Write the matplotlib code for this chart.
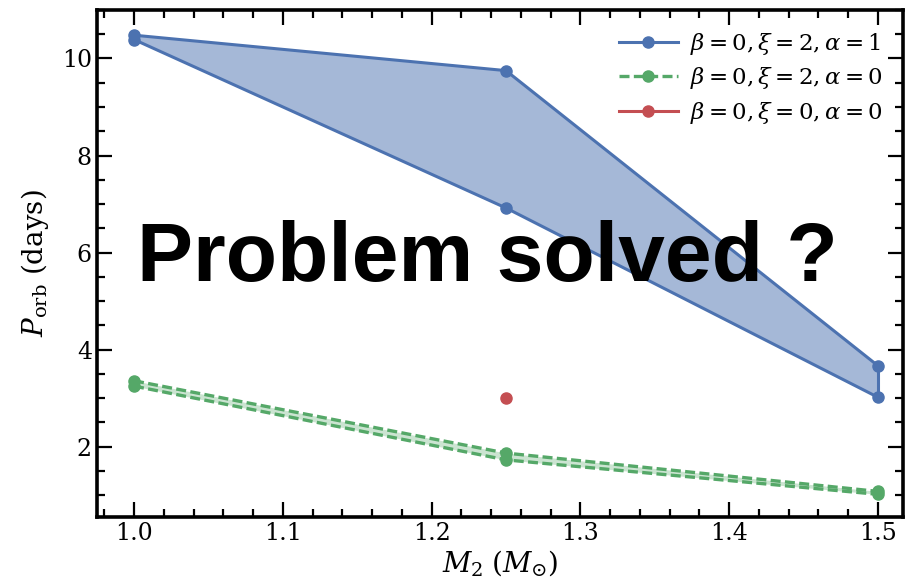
import matplotlib
matplotlib.use("Agg")
import matplotlib.pyplot as plt
from matplotlib.ticker import MultipleLocator

plt.rcParams['font.family'] = ['DejaVu Serif']
plt.rcParams['mathtext.fontset'] = 'dejavuserif'

# Data
m2 = [1.0, 1.25, 1.5]
blue_upper = [10.48, 9.75, 3.67]
blue_lower = [10.39, 6.92, 3.02]
green_upper = [3.36, 1.87, 1.08]
green_lower = [3.25, 1.73, 1.02]
red_x = [1.25]
red_y = [3.01]

labels = [r'$\beta=0,\xi=2,\alpha=1$',
          r'$\beta=0,\xi=2,\alpha=0$',
          r'$\beta=0,\xi=0,\alpha=0$']

blue = '#4C72B0'
green = '#55A868'
red = '#C44E52'

fig = plt.figure(figsize=(9.05, 5.85), dpi=100)
ax = fig.add_axes([0.107, 0.116, 0.891, 0.867])

# Blue band
ax.fill_between(m2, blue_lower, blue_upper, color=blue, alpha=0.5, lw=0)
ax.plot(m2, blue_upper, '-o', color=blue, lw=2.2, ms=8, label=labels[0])
ax.plot(m2, blue_lower, '-o', color=blue, lw=2.2, ms=8)
ax.plot([m2[0], m2[0]], [blue_lower[0], blue_upper[0]], '-', color=blue, lw=2.2)
ax.plot([m2[-1], m2[-1]], [blue_lower[-1], blue_upper[-1]], '-', color=blue, lw=2.2)

# Green band
ax.fill_between(m2, green_lower, green_upper, color=green, alpha=0.3, lw=0)
ax.plot(m2, green_upper, '--o', color=green, lw=2.4, ms=8, dashes=(3, 1.3), label=labels[1])
ax.plot(m2, green_lower, '--o', color=green, lw=2.4, ms=8, dashes=(3, 1.3))

# Red point
ax.plot(red_x, red_y, '-o', color=red, lw=2.2, ms=8, label=labels[2])

ax.set_xlim(0.975, 1.517)
ax.set_ylim(0.55, 11.0)
ax.xaxis.set_minor_locator(MultipleLocator(0.02))
ax.yaxis.set_major_locator(MultipleLocator(2))
ax.yaxis.set_minor_locator(MultipleLocator(0.5))
ax.set_xticks([1.0, 1.1, 1.2, 1.3, 1.4, 1.5])
ax.set_xticklabels(['1.0', '1.1', '1.2', '1.3', '1.4', '1.5'])

ax.tick_params(which='both', direction='in', top=True, right=True, labelsize=17, width=1.6)
ax.tick_params(which='major', length=11)
ax.tick_params(which='minor', length=5.5)
for s in ax.spines.values():
    s.set_linewidth(2.6)

ax.set_xlabel(r'$M_2\;(M_{\odot})$', fontsize=20, labelpad=2)
ax.set_ylabel(r'$P_{\rm orb}$ (days)', fontsize=20, labelpad=8)

leg = ax.legend(loc='upper right', frameon=False, fontsize=16.5, handlelength=2.6,
                borderaxespad=0.6, labelspacing=0.38, handletextpad=0.5,
                borderpad=0.3)

fig.text(0.151, 0.52, 'Problem solved ?', fontsize=60.5, fontweight='bold',
         family='Liberation Sans', color='black', ha='left', va='baseline')

fig.savefig('out.png', dpi=100)
